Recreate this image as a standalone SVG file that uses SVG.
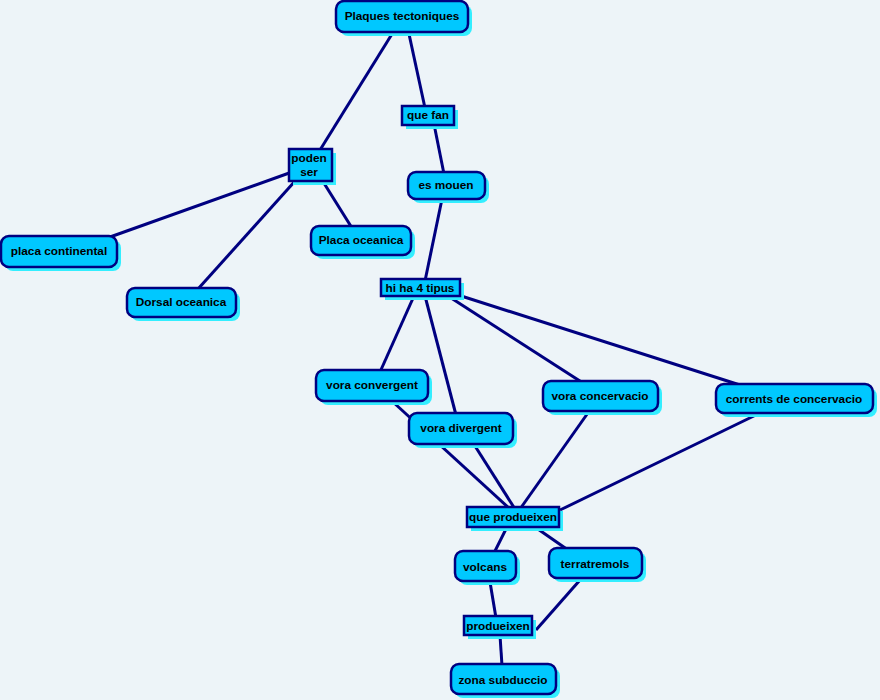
<svg xmlns="http://www.w3.org/2000/svg" width="880" height="700" viewBox="0 0 880 700">
<style>
.bg{fill:#EDF4F8}
.sh{fill:#33EEFF}
.box{fill:#00C8FF;stroke:#000080;stroke-width:2.5}
.t{font-family:"Liberation Sans",Arial,sans-serif;font-weight:bold;font-size:11.8px;fill:#000000;text-anchor:middle}
.c line{stroke:#000080;stroke-width:3}
</style>
<rect class="bg" width="880" height="700"/>
<g class="c">
<line x1="392" y1="34" x2="320" y2="150"/>
<line x1="409" y1="34" x2="425" y2="108"/>
<line x1="434" y1="124" x2="444" y2="174"/>
<line x1="292" y1="172" x2="110" y2="237"/>
<line x1="296" y1="180" x2="198" y2="289"/>
<line x1="322" y1="180" x2="352" y2="228"/>
<line x1="442" y1="199" x2="425" y2="281"/>
<line x1="414" y1="296" x2="380" y2="372"/>
<line x1="425" y1="296" x2="456" y2="415"/>
<line x1="448" y1="296" x2="583" y2="383"/>
<line x1="455" y1="294" x2="740" y2="385"/>
<line x1="393" y1="402" x2="510" y2="509"/>
<line x1="475" y1="446" x2="515" y2="509"/>
<line x1="590" y1="410" x2="520" y2="509"/>
<line x1="760" y1="413" x2="560" y2="510"/>
<line x1="507" y1="527" x2="494" y2="553"/>
<line x1="535" y1="527" x2="568" y2="550"/>
<line x1="490" y1="582" x2="496" y2="618"/>
<line x1="580" y1="580" x2="536" y2="630"/>
<line x1="500" y1="635" x2="502" y2="666"/>
</g>
<g id="n-plaques">
<rect class="sh" x="340" y="5" width="132" height="31" rx="8"/>
<rect class="box" x="336" y="1" width="132" height="31" rx="8"/>
<text class="t" x="402" y="20">Plaques tectoniques</text>
</g>
<g id="n-poden">
<rect class="sh" x="293" y="153" width="43" height="32"/>
<rect class="box" x="289" y="149" width="43" height="32"/>
<text class="t" x="309" y="162">poden</text>
<text class="t" x="309" y="176">ser</text>
</g>
<g id="n-quefan">
<rect class="sh" x="406" y="110" width="52" height="19"/>
<rect class="box" x="402" y="106" width="52" height="19"/>
<text class="t" x="428" y="119">que fan</text>
</g>
<g id="n-esmouen">
<rect class="sh" x="412" y="176" width="77" height="27" rx="8"/>
<rect class="box" x="408" y="172" width="77" height="27" rx="8"/>
<text class="t" x="446" y="189">es mouen</text>
</g>
<g id="n-placacont">
<rect class="sh" x="5" y="240" width="116" height="31" rx="8"/>
<rect class="box" x="1" y="236" width="116" height="31" rx="8"/>
<text class="t" x="59" y="255">placa continental</text>
</g>
<g id="n-placaoce">
<rect class="sh" x="315" y="230" width="100" height="29" rx="8"/>
<rect class="box" x="311" y="226" width="100" height="29" rx="8"/>
<text class="t" x="361" y="244">Placa oceanica</text>
</g>
<g id="n-dorsal">
<rect class="sh" x="131" y="292" width="109" height="29" rx="8"/>
<rect class="box" x="127" y="288" width="109" height="29" rx="8"/>
<text class="t" x="181" y="306">Dorsal oceanica</text>
</g>
<g id="n-hiha">
<rect class="sh" x="385" y="283" width="79" height="17"/>
<rect class="box" x="381" y="279" width="79" height="17"/>
<text class="t" x="420" y="292">hi ha 4 tipus</text>
</g>
<g id="n-convergent">
<rect class="sh" x="320" y="374" width="112" height="31" rx="8"/>
<rect class="box" x="316" y="370" width="112" height="31" rx="8"/>
<text class="t" x="372" y="389">vora convergent</text>
</g>
<g id="n-divergent">
<rect class="sh" x="413" y="417" width="104" height="31" rx="8"/>
<rect class="box" x="409" y="413" width="104" height="31" rx="8"/>
<text class="t" x="461" y="432">vora divergent</text>
</g>
<g id="n-concervacio">
<rect class="sh" x="547" y="385" width="115" height="30" rx="8"/>
<rect class="box" x="543" y="381" width="115" height="30" rx="8"/>
<text class="t" x="600" y="400">vora concervacio</text>
</g>
<g id="n-corrents">
<rect class="sh" x="720" y="388" width="157" height="29" rx="8"/>
<rect class="box" x="716" y="384" width="157" height="29" rx="8"/>
<text class="t" x="794" y="403">corrents de concervacio</text>
</g>
<g id="n-queprod">
<rect class="sh" x="471" y="511" width="92" height="20"/>
<rect class="box" x="467" y="507" width="92" height="20"/>
<text class="t" x="513" y="521">que produeixen</text>
</g>
<g id="n-volcans">
<rect class="sh" x="459" y="555" width="61" height="30" rx="8"/>
<rect class="box" x="455" y="551" width="61" height="30" rx="8"/>
<text class="t" x="485" y="571">volcans</text>
</g>
<g id="n-terratremols">
<rect class="sh" x="553" y="552" width="93" height="30" rx="8"/>
<rect class="box" x="549" y="548" width="93" height="30" rx="8"/>
<text class="t" x="595" y="568">terratremols</text>
</g>
<g id="n-produeixen">
<rect class="sh" x="468" y="620" width="68" height="19"/>
<rect class="box" x="464" y="616" width="68" height="19"/>
<text class="t" x="498" y="630">produeixen</text>
</g>
<g id="n-zona">
<rect class="sh" x="455" y="668" width="105" height="30" rx="8"/>
<rect class="box" x="451" y="664" width="105" height="30" rx="8"/>
<text class="t" x="503" y="684">zona subduccio</text>
</g>
</svg>
